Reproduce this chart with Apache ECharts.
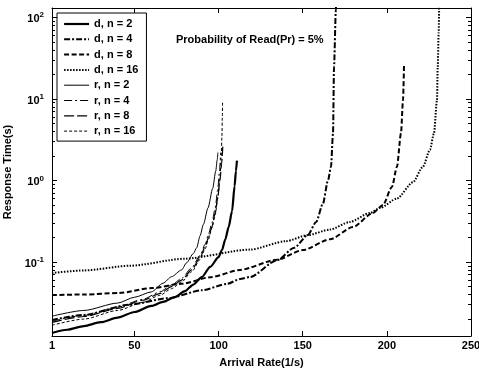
<!DOCTYPE html>
<html><head><meta charset="utf-8">
<script src="https://cdn.jsdelivr.net/npm/echarts@6/dist/echarts.min.js"></script>
<style>html,body{margin:0;padding:0;background:#fff}#c{width:479px;height:374px}</style>
</head><body><div id="c"></div>
<script>
// ---- data ----
const seriesNames = ['d, n = 2', 'd, n = 4', 'd, n = 8', 'd, n = 16', 'r, n = 2', 'r, n = 4', 'r, n = 8', 'r, n = 16'];
const xTickLabels = [1, 50, 100, 150, 200, 250];
const xTicks = [50, 100, 150, 200];
const yMajor = [0.1, 1, 10, 100];
const yMinor = [0.02,0.03,0.04,0.05,0.06,0.07,0.08,0.09,
                0.2,0.3,0.4,0.5,0.6,0.7,0.8,0.9,
                2,3,4,5,6,7,8,9,
                20,30,40,50,60,70,80,90];
const annotation = 'Probability of Read(Pr) = 5%';

const dN2 = [[1,0.0135],[10,0.0148],[20,0.0164],[30,0.0183],[40,0.0208],[50,0.0244],[60,0.029],[67,0.0325],[74,0.0372],[80,0.044],[85,0.053],[90,0.0654],[95,0.087],[100,0.115],[102,0.14],[104,0.19],[106,0.27],[108,0.42],[109.5,0.85],[110.3,1.3],[110.9,1.75]];
const dN4 = [[1,0.0195],[20,0.0225],[47,0.030],[70,0.036],[90,0.045],[105,0.054],[112.7,0.0618],[118.6,0.0655],[134.7,0.105],[145,0.15],[153,0.214],[158,0.31],[162,0.52],[165,1.0],[166.8,1.47],[168,3.8],[168.6,25],[169.7,123],[170,300]];
const dN8 = [[1,0.0394],[20,0.040],[40.8,0.0417],[60.4,0.048],[78,0.054],[95,0.065],[112.7,0.080],[134.7,0.107],[150,0.14],[166.2,0.19],[179.8,0.268],[191.7,0.40],[197.7,0.50],[203,0.83],[206,1.47],[208.4,3.8],[209.6,9.7],[210.2,26]];
const dN16 = [[1,0.0733],[20,0.079],[47.3,0.090],[80,0.110],[118.6,0.142],[140,0.18],[153,0.214],[166.2,0.25],[178,0.31],[190,0.40],[195.9,0.46],[206,0.60],[215.5,0.95],[221.4,1.47],[225.6,2.37],[228,3.8],[229.8,9.7],[230.2,24.7],[230.8,65],[231.1,131],[231.3,300]];
const rN2 = [[1,0.0217],[20,0.0255],[40,0.0314],[50,0.037],[60,0.043],[67,0.055],[72,0.066],[78,0.08],[81,0.098],[85,0.127],[87,0.15],[89,0.21],[91,0.29],[93.7,0.46],[96.5,0.8],[98.3,1.3],[99.2,1.8],[99.6,2.2]];
const rN4 = [[1,0.0188],[20,0.0222],[40,0.028],[55,0.035],[65,0.043],[72,0.052],[78,0.063],[84,0.085],[89,0.12],[92,0.165],[94,0.22],[96,0.30],[98,0.46],[99.5,0.78],[100.5,1.3],[101.2,2.2]];
const rN8 = [[1,0.0182],[20,0.0215],[40,0.027],[55,0.034],[65,0.041],[72,0.05],[78,0.06],[84,0.08],[89,0.113],[92,0.155],[94,0.2],[96,0.27],[98,0.4],[99.5,0.62],[100.8,1.0],[101.8,1.6],[102.5,2.6]];
const rN16 = [[1,0.0168],[20,0.020],[40,0.0255],[55,0.032],[65,0.039],[72,0.047],[78,0.057],[84,0.076],[89,0.107],[92,0.145],[94,0.19],[96,0.26],[98,0.38],[99.5,0.6],[100.8,1.05],[101.6,2.0],[102,3.5],[102.2,6],[102.4,9.5]];

const seriesData = [dN2, dN4, dN8, dN16, rN2, rN4, rN8, rN16];
const seriesDash = ['solid', [6,2,2,2], [5,2.5], [1.5,1.5], 'solid', [8,3,2,3], [10,3], [3,2]];
const seriesWidth = [2.2, 2, 2, 2, 1, 1, 1.2, 1];

// ---- chart ----
const FONT = '"Liberation Sans", Arial, Helvetica, sans-serif';
const txt = {color:'#000', fontSize:11, fontWeight:'bold', fontFamily:FONT};
const chart = echarts.init(document.getElementById('c'), null, {renderer:'canvas'});
const Y_MIN = 0.0124, Y_MAX = 130;

function yAx(pos, ticks, len, showLine, showLabel) {
  const ax = {
    type:'log', logBase:10, min:Y_MIN, max:Y_MAX, position:pos,
    axisLine:{show:showLine, lineStyle:{color:'#000', width:1}},
    axisTick:{show:true, inside:true, length:len, customValues:ticks, lineStyle:{color:'#000', width:1}},
    axisLabel:{show:false},
    splitLine:{show:false}, minorTick:{show:false}, minorSplitLine:{show:false}
  };
  if (showLabel) {
    ax.axisLabel = {
      show:true, customValues:yMajor, margin:8,
      formatter: v => '{b|10}{s|' + Math.round(Math.log10(v)) + '}',
      rich:{
        b:{fontSize:11, fontWeight:'bold', fontFamily:FONT, color:'#000', lineHeight:12, padding:[4,0,0,0]},
        s:{fontSize:8, fontWeight:'bold', fontFamily:FONT, color:'#000', lineHeight:8, verticalAlign:'top'}
      }
    };
    ax.name = 'Response Time(s)';
    ax.nameLocation = 'middle';
    ax.nameGap = 32;
    ax.nameTextStyle = Object.assign({}, txt);
  }
  return ax;
}

const option = {
  animation:false,
  backgroundColor:'#fff',
  title:{text:annotation, left:176, top:34, padding:0, textStyle:Object.assign({}, txt)},
  grid:{left:52, right:8, top:8, bottom:38, containLabel:false, outerBoundsMode:'none'},
  legend:{
    orient:'vertical', left:57, top:13,
    data: seriesNames.map((name, i) => ({name, lineStyle:{width:seriesWidth[i], type:seriesDash[i], color:'#000'}})),
    itemWidth:25, itemHeight:12, itemGap:3.3, padding:[5,8,4,6],
    borderColor:'#000', borderWidth:1, backgroundColor:'#fff',
    itemStyle:{opacity:0, borderWidth:0},
    selectedMode:false, textStyle:Object.assign({lineHeight:12}, txt)
  },
  xAxis:[
    {type:'value', min:1, max:250, position:'bottom',
     axisLine:{show:true, onZero:false, lineStyle:{color:'#000', width:1}},
     axisTick:{show:true, inside:true, length:5, customValues:xTicks, lineStyle:{color:'#000'}},
     axisLabel:Object.assign({customValues:xTickLabels, margin:4}, txt),
     splitLine:{show:false},
     name:'Arrival Rate(1/s)', nameLocation:'middle', nameGap:21, nameTextStyle:Object.assign({}, txt)},
    {type:'value', min:1, max:250, position:'top',
     axisLine:{show:true, onZero:false, lineStyle:{color:'#000', width:1}},
     axisTick:{show:true, inside:true, length:5, customValues:xTicks, lineStyle:{color:'#000'}},
     axisLabel:{show:false}, splitLine:{show:false}}
  ],
  yAxis:[
    yAx('left', yMajor, 5, true, true),
    yAx('right', yMajor, 5, true, false),
    yAx('left', yMinor, 3, false, false),
    yAx('right', yMinor, 3, false, false)
  ],
  series: seriesNames.map((name, i) => ({
    name, type:'line', data:seriesData[i], xAxisIndex:0, yAxisIndex:0,
    showSymbol:false, symbol:'none', smooth:0.25, smoothMonotone:'x', clip:true,
    lineStyle:{color:'#000', width:seriesWidth[i], type:seriesDash[i], cap:'butt'},
    itemStyle:{color:'#000'}, emphasis:{disabled:true}
  }))
};
chart.setOption(option);
</script></body></html>
